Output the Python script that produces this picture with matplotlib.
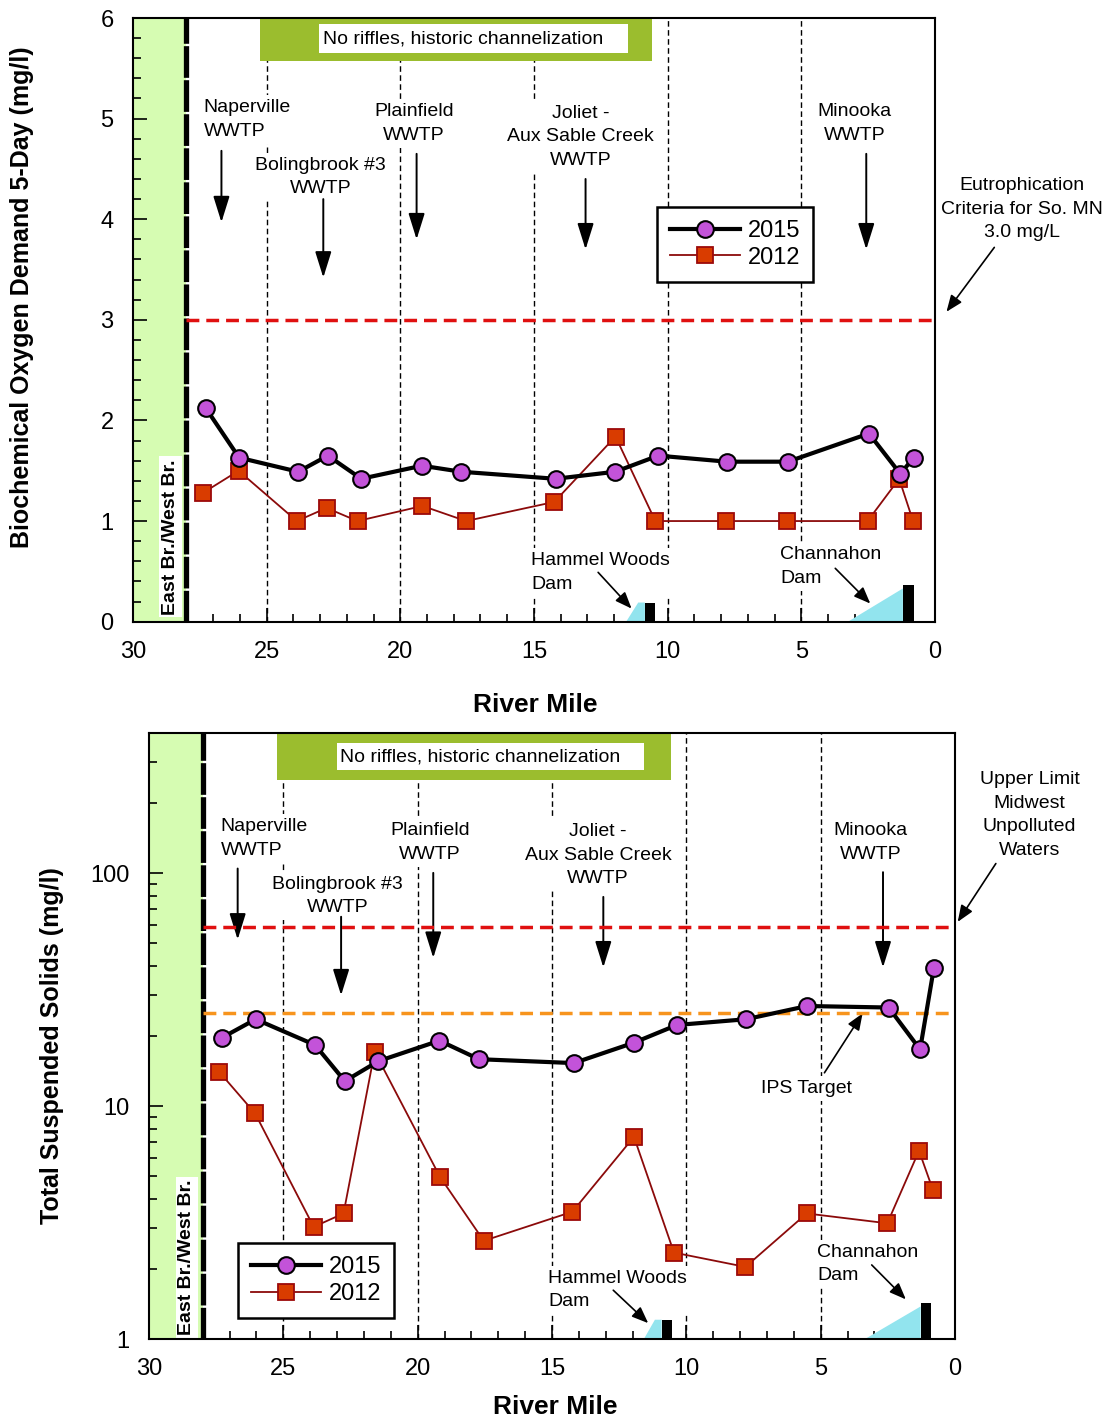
import matplotlib
matplotlib.use("Agg")
import matplotlib.pyplot as plt
from matplotlib.lines import Line2D
from matplotlib.patches import Rectangle, Polygon
from matplotlib.ticker import MultipleLocator, FixedLocator, LogLocator, NullFormatter

plt.rcParams["font.family"] = ["Liberation Sans", "DejaVu Sans"]

# ---------- data ----------
rm_2015 = [27.27, 26.03, 23.82, 22.71, 21.46, 19.19, 17.72, 14.19, 11.96, 10.35, 7.78, 5.50, 2.47, 1.30, 0.79]
rm_2012 = [27.38, 26.05, 23.87, 22.76, 21.60, 19.17, 17.54, 14.24, 11.95, 10.46, 7.80, 5.52, 2.52, 1.34, 0.82]
bod_2015 = [2.12, 1.63, 1.49, 1.65, 1.42, 1.55, 1.49, 1.42, 1.49, 1.65, 1.59, 1.59, 1.87, 1.47, 1.63]
bod_2012 = [1.28, 1.50, 1.00, 1.13, 1.00, 1.15, 1.00, 1.19, 1.84, 1.00, 1.00, 1.00, 1.00, 1.42, 1.00]
tss_2015 = [19.7, 23.6, 18.3, 12.8, 15.6, 19.1, 15.9, 15.3, 18.7, 22.3, 23.6, 26.9, 26.5, 17.5, 39.0]
tss_2012 = [14.0, 9.3, 3.03, 3.46, 17.1, 4.97, 2.64, 3.52, 7.38, 2.35, 2.04, 3.46, 3.14, 6.43, 4.36]
years = ["2015", "2012"]
bod_criterion = 3.0
tss_upper = 59
tss_ips = 25
segment_miles = [25, 20, 15, 10, 5]

PURPLE = "#c353d9"; SQ_FILL = "#d93c00"; SQ_EDGE = "#9c0a0a"; LINE12 = "#8b0a0a"
LGREEN = "#d6fcb2"; OLIVE = "#9bbd2e"; CYAN = "#92e4ee"
FS = 14
LSP = 1.5

fig = plt.figure(figsize=(11.07, 14.18), dpi=100)
ax1 = fig.add_axes([0.1201, 0.5616, 0.7245, 0.4257])
ax2 = fig.add_axes([0.1346, 0.0557, 0.7281, 0.4274])

arrow_big = dict(arrowstyle="-|>,head_length=0.8,head_width=0.25", mutation_scale=20, lw=1.4, color="black", shrinkA=0, shrinkB=0)
arrow_small = dict(arrowstyle="-|>,head_length=0.5,head_width=0.2", mutation_scale=20, lw=1.2, color="black", shrinkA=0, shrinkB=0)
wbox = dict(facecolor="white", edgecolor="none", pad=3)

def base(ax):
    ax.set_xlim(30, 0)
    ax.axvspan(28, 30, color=LGREEN, zorder=0.5, lw=0)
    ax.axvline(28, color="black", lw=3.8, ls=(0, (6, 0.45)), zorder=2.6)
    for m in segment_miles:
        ax.axvline(m, color="black", lw=1, ls=(0, (4, 2.5)), zorder=1.5)
    ax.xaxis.set_major_locator(MultipleLocator(5))
    ax.xaxis.set_minor_locator(FixedLocator([m for m in range(1, 28) if m % 5]))
    ax.tick_params(which="both", direction="in", top=False, right=False, labelsize=17, width=1.2)
    ax.tick_params(which="major", length=10)
    ax.tick_params(which="minor", length=6)
    ax.tick_params(axis="x", pad=14)
    ax.tick_params(axis="y", pad=14)
    for s in ax.spines.values():
        s.set_linewidth(1.5)

def plot_series(ax, y15, y12):
    ax.plot(rm_2015, y15, color="black", lw=3, marker="o", ms=12, mfc=PURPLE, mec="black", mew=1.5, zorder=5)
    ax.plot(rm_2012, y12, color=LINE12, lw=1.3, marker="s", ms=11, mfc=SQ_FILL, mec=SQ_EDGE, mew=1.3, zorder=4)

def legend(ax, anchor):
    h = [Line2D([], [], color="black", lw=3, marker="o", ms=12, mfc=PURPLE, mec="black", mew=1.5),
         Line2D([], [], color=LINE12, lw=1.3, marker="s", ms=11, mfc=SQ_FILL, mec=SQ_EDGE, mew=1.3)]
    lg = ax.legend(h, years, loc="upper left", bbox_to_anchor=anchor, borderaxespad=0, fontsize=17,
                   handlelength=3.0, handletextpad=0.3, labelspacing=0.2, fancybox=False,
                   framealpha=1, edgecolor="black", borderpad=0.55)
    lg.get_frame().set_linewidth(1.8)
    lg.set_zorder(6)

def label(ax, text, x, y, ha="center"):
    ax.text(x, y, text, ha=ha, va="center", fontsize=FS, linespacing=LSP, bbox=wbox, zorder=3)

# ---------- top panel: BOD5 ----------
base(ax1)
ax1.set_ylim(0, 6)
ax1.yaxis.set_major_locator(MultipleLocator(1))
ax1.yaxis.set_minor_locator(MultipleLocator(0.2))
ax1.add_patch(Rectangle((10.58, 5.57), 25.25 - 10.58, 6 - 5.57, color=OLIVE, lw=0, zorder=2.2))
ax1.add_patch(Rectangle((11.5, 5.65), 23.04 - 11.5, 5.94 - 5.65, color="white", lw=0, zorder=2.3))
ax1.text(22.89, 5.79, "No riffles, historic channelization", fontsize=FS, va="center", ha="left", zorder=2.4)
ax1.hlines(bod_criterion, 28, 0, color="#e01010", lw=2.5, ls=(0, (3.7, 2)), zorder=3.5)
plot_series(ax1, bod_2015, bod_2012)

label(ax1, "Naperville\nWWTP", 27.36, 4.99, ha="left")
label(ax1, "Bolingbrook #3\nWWTP", 22.98, 4.42)
label(ax1, "Plainfield\nWWTP", 19.49, 4.95)
label(ax1, "Joliet -\nAux Sable Creek\nWWTP", 13.26, 4.82)
label(ax1, "Minooka\nWWTP", 3.02, 4.95)
for x, y0, y1 in [(26.69, 4.68, 3.97), (22.88, 4.20, 3.42), (19.39, 4.65, 3.80), (13.07, 4.40, 3.70), (2.57, 4.65, 3.70)]:
    ax1.annotate("", xy=(x, y1), xytext=(x, y0), arrowprops=arrow_big, zorder=3)

label(ax1, "Hammel Woods\nDam", 15.10, 0.49, ha="left")
label(ax1, "Channahon\nDam", 5.80, 0.55, ha="left")
ax1.annotate("", xy=(11.35, 0.13), xytext=(12.60, 0.49), arrowprops=arrow_small)
ax1.annotate("", xy=(2.42, 0.18), xytext=(3.73, 0.53), arrowprops=arrow_small)
ax1.add_patch(Polygon([(11.55, 0), (11.1, 0.19), (10.85, 0.19), (10.85, 0)], color=CYAN, lw=0, zorder=2))
ax1.add_patch(Rectangle((10.47, 0), 0.38, 0.19, color="black", lw=0, zorder=2))
ax1.add_patch(Polygon([(3.25, 0), (1.2, 0.33), (1.2, 0)], color=CYAN, lw=0, zorder=2))
ax1.add_patch(Rectangle((0.8, 0), 0.4, 0.36, color="black", lw=0, zorder=2))

ax1.text(28.6, 0.07, "East Br./West Br.", rotation=90, ha="center", va="bottom", fontsize=14,
         fontweight="bold", bbox=dict(facecolor="white", edgecolor="none", pad=2), zorder=2.5)
ax1.text(-3.25, 4.10, "Eutrophication\nCriteria for So. MN\n3.0 mg/L", ha="center", va="center",
         fontsize=FS, linespacing=LSP, clip_on=False)
ax1.annotate("", xy=(-0.43, 3.08), xytext=(-2.22, 3.72), arrowprops=arrow_small, annotation_clip=False)

legend(ax1, (0.653, 0.687))
ax1.set_ylabel("Biochemical Oxygen Demand 5-Day (mg/l)", fontsize=18, fontweight="bold")
ax1.yaxis.set_label_coords(-0.123, 0.538)
ax1.set_xlabel("River Mile", fontsize=19, fontweight="bold")
ax1.xaxis.set_label_coords(0.501, -0.118)

# ---------- bottom panel: TSS (log) ----------
base(ax2)
ax2.set_yscale("log")
ax2.set_ylim(1, 400)
ax2.set_yticks([1, 10, 100])
ax2.set_yticklabels(["1", "10", "100"])
ax2.yaxis.set_minor_locator(LogLocator(subs=range(2, 10)))
ax2.yaxis.set_minor_formatter(NullFormatter())
ax2.add_patch(Rectangle((10.57, 251), 25.24 - 10.57, 400 - 251, color=OLIVE, lw=0, zorder=2.2))
ax2.add_patch(Rectangle((11.58, 277), 23.0 - 11.58, 361 - 277, color="white", lw=0, zorder=2.3))
ax2.text(22.89, 316, "No riffles, historic channelization", fontsize=FS, va="center", ha="left", zorder=2.4)
ax2.hlines(tss_upper, 28, 0, color="#e01010", lw=2.5, ls=(0, (3.7, 2)), zorder=3.5)
ax2.hlines(tss_ips, 28, -0.2, color="#f7941d", lw=2.5, ls=(0, (3.7, 2)), zorder=3.5)
plot_series(ax2, tss_2015, tss_2012)

label(ax2, "Naperville\nWWTP", 27.33, 140.6, ha="left")
label(ax2, "Bolingbrook #3\nWWTP", 22.99, 80.0)
label(ax2, "Plainfield\nWWTP", 19.55, 135.6)
label(ax2, "Joliet -\nAux Sable Creek\nWWTP", 13.29, 119.5)
label(ax2, "Minooka\nWWTP", 3.13, 135.6)
for x, y0, y1 in [(26.70, 104.7, 51.9), (22.85, 65, 29.9), (19.42, 100.3, 43.3), (13.09, 79.1, 39.4), (2.68, 101, 39.4)]:
    ax2.annotate("", xy=(x, y1), xytext=(x, y0), arrowprops=arrow_big, zorder=3)

label(ax2, "IPS Target", 5.52, 11.9)
ax2.annotate("", xy=(3.44, 25.0), xytext=(4.86, 13.9), arrowprops=arrow_small)
label(ax2, "Hammel Woods\nDam", 15.15, 1.62, ha="left")
label(ax2, "Channahon\nDam", 5.14, 2.10, ha="left")
ax2.annotate("", xy=(11.42, 1.17), xytext=(12.72, 1.62), arrowprops=arrow_small)
ax2.annotate("", xy=(1.83, 1.48), xytext=(3.10, 2.08), arrowprops=arrow_small)
ax2.add_patch(Polygon([(11.58, 1), (11.17, 1.21), (10.92, 1.21), (10.92, 1)], color=CYAN, lw=0, zorder=2))
ax2.add_patch(Rectangle((10.55, 1), 0.37, 0.21, color="black", lw=0, zorder=2))
ax2.add_patch(Polygon([(3.35, 1), (1.28, 1.38), (1.28, 1)], color=CYAN, lw=0, zorder=2))
ax2.add_patch(Rectangle((0.91, 1), 0.37, 0.43, color="black", lw=0, zorder=2))

ax2.text(28.59, 1.04, "East Br./West Br.", rotation=90, ha="center", va="bottom", fontsize=14,
         fontweight="bold", bbox=dict(facecolor="white", edgecolor="none", pad=2), zorder=2.5)
ax2.text(-2.78, 177.4, "Upper Limit\nMidwest\nUnpolluted\nWaters", ha="center", va="center",
         fontsize=FS, linespacing=LSP, clip_on=False)
ax2.annotate("", xy=(-0.10, 61.8), xytext=(-1.52, 110), arrowprops=arrow_small, annotation_clip=False)

legend(ax2, (0.11, 0.158))
ax2.set_ylabel("Total Suspended Solids (mg/l)", fontsize=18, fontweight="bold")
ax2.yaxis.set_label_coords(-0.105, 0.485)
ax2.set_xlabel("River Mile", fontsize=19, fontweight="bold")
ax2.xaxis.set_label_coords(0.504, -0.092)

fig.savefig("out.png", dpi=100)
